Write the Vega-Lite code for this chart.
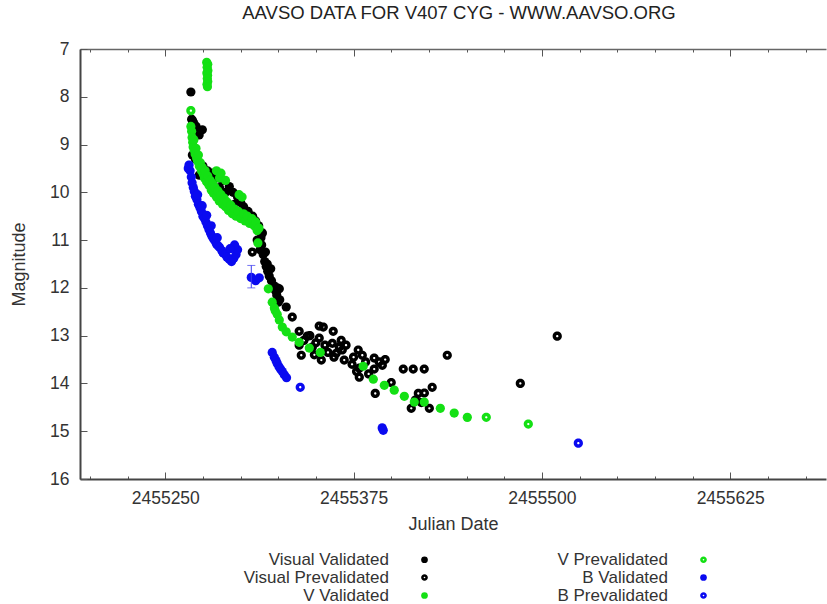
{
  "$schema": "https://vega.github.io/schema/vega-lite/v6.json",
  "width": 746,
  "height": 430,
  "autosize": {"type": "none"},
  "padding": {"left": 80, "top": 49, "right": 1, "bottom": 125},
  "background": "white",
  "title": {"text": "AAVSO DATA FOR V407 CYG - WWW.AAVSO.ORG", "fontSize": 18.5, "font": "Liberation Sans", "fontWeight": "normal", "color": "#222", "offset": 18, "anchor": "middle", "dx": 6},
  "config": {
    "view": {"stroke": null},
    "axis": {"labelFont": "Liberation Sans", "titleFont": "Liberation Sans", "labelColor": "#333", "titleColor": "#333", "labelFontSize": 17.5, "titleFontSize": 18, "titleFontWeight": "normal", "grid": false, "tickColor": "#555", "domainColor": "#444", "domainWidth": 2},
    "legend": {"labelFont": "Liberation Sans", "labelFontSize": 17, "labelColor": "#333"}
  },
  "datasets": {
    "pts": [
      {"jd": 2455267.0, "mag": 7.90, "s": "Visual Validated"},
      {"jd": 2455267.5, "mag": 8.47, "s": "Visual Validated"},
      {"jd": 2455268.2, "mag": 8.50, "s": "Visual Validated"},
      {"jd": 2455269.0, "mag": 8.56, "s": "Visual Validated"},
      {"jd": 2455270.5, "mag": 8.62, "s": "Visual Validated"},
      {"jd": 2455271.2, "mag": 8.75, "s": "Visual Validated"},
      {"jd": 2455272.5, "mag": 8.80, "s": "Visual Validated"},
      {"jd": 2455274.6, "mag": 8.69, "s": "Visual Validated"},
      {"jd": 2455268.0, "mag": 9.22, "s": "Visual Validated"},
      {"jd": 2455270.0, "mag": 9.30, "s": "Visual Validated"},
      {"jd": 2455272.6, "mag": 9.64, "s": "Visual Validated"},
      {"jd": 2455275.0, "mag": 9.45, "s": "Visual Validated"},
      {"jd": 2455278.0, "mag": 9.55, "s": "Visual Validated"},
      {"jd": 2455281.0, "mag": 9.60, "s": "Visual Validated"},
      {"jd": 2455284.0, "mag": 9.70, "s": "Visual Validated"},
      {"jd": 2455286.0, "mag": 9.90, "s": "Visual Validated"},
      {"jd": 2455288.0, "mag": 9.75, "s": "Visual Validated"},
      {"jd": 2455290.0, "mag": 10.00, "s": "Visual Validated"},
      {"jd": 2455292.5, "mag": 9.88, "s": "Visual Validated"},
      {"jd": 2455295.0, "mag": 10.00, "s": "Visual Validated"},
      {"jd": 2455296.0, "mag": 10.25, "s": "Visual Validated"},
      {"jd": 2455298.0, "mag": 10.10, "s": "Visual Validated"},
      {"jd": 2455300.0, "mag": 10.20, "s": "Visual Validated"},
      {"jd": 2455302.0, "mag": 10.30, "s": "Visual Validated"},
      {"jd": 2455305.0, "mag": 10.40, "s": "Visual Validated"},
      {"jd": 2455306.0, "mag": 10.60, "s": "Visual Validated"},
      {"jd": 2455308.0, "mag": 10.50, "s": "Visual Validated"},
      {"jd": 2455310.0, "mag": 10.60, "s": "Visual Validated"},
      {"jd": 2455311.0, "mag": 11.00, "s": "Visual Validated"},
      {"jd": 2455312.0, "mag": 10.70, "s": "Visual Validated"},
      {"jd": 2455313.5, "mag": 10.95, "s": "Visual Validated"},
      {"jd": 2455314.5, "mag": 10.85, "s": "Visual Validated"},
      {"jd": 2455314.0, "mag": 11.10, "s": "Visual Validated"},
      {"jd": 2455313.0, "mag": 11.20, "s": "Visual Validated"},
      {"jd": 2455315.0, "mag": 11.30, "s": "Visual Validated"},
      {"jd": 2455316.5, "mag": 11.25, "s": "Visual Validated"},
      {"jd": 2455316.0, "mag": 11.45, "s": "Visual Validated"},
      {"jd": 2455317.0, "mag": 11.55, "s": "Visual Validated"},
      {"jd": 2455318.0, "mag": 11.65, "s": "Visual Validated"},
      {"jd": 2455319.0, "mag": 11.75, "s": "Visual Validated"},
      {"jd": 2455320.0, "mag": 11.60, "s": "Visual Validated"},
      {"jd": 2455320.5, "mag": 11.85, "s": "Visual Validated"},
      {"jd": 2455322.0, "mag": 11.95, "s": "Visual Validated"},
      {"jd": 2455323.0, "mag": 12.05, "s": "Visual Validated"},
      {"jd": 2455324.0, "mag": 12.15, "s": "Visual Validated"},
      {"jd": 2455325.0, "mag": 12.30, "s": "Visual Validated"},
      {"jd": 2455326.0, "mag": 12.25, "s": "Visual Validated"},
      {"jd": 2455330.3, "mag": 12.40, "s": "Visual Validated"},

      {"jd": 2455307.8, "mag": 11.25, "s": "Visual Prevalidated"},
      {"jd": 2455317.7, "mag": 11.50, "s": "Visual Prevalidated"},
      {"jd": 2455324.3, "mag": 12.00, "s": "Visual Prevalidated"},
      {"jd": 2455325.7, "mag": 12.02, "s": "Visual Prevalidated"},
      {"jd": 2455334.3, "mag": 12.61, "s": "Visual Prevalidated"},
      {"jd": 2455338.9, "mag": 12.91, "s": "Visual Prevalidated"},
      {"jd": 2455344.3, "mag": 13.01, "s": "Visual Prevalidated"},
      {"jd": 2455352.2, "mag": 12.80, "s": "Visual Prevalidated"},
      {"jd": 2455354.9, "mag": 12.82, "s": "Visual Prevalidated"},
      {"jd": 2455361.5, "mag": 12.91, "s": "Visual Prevalidated"},
      {"jd": 2455366.8, "mag": 13.10, "s": "Visual Prevalidated"},
      {"jd": 2455367.5, "mag": 13.30, "s": "Visual Prevalidated"},
      {"jd": 2455338.9, "mag": 13.20, "s": "Visual Prevalidated"},
      {"jd": 2455340.3, "mag": 13.41, "s": "Visual Prevalidated"},
      {"jd": 2455347.6, "mag": 13.24, "s": "Visual Prevalidated"},
      {"jd": 2455353.6, "mag": 13.51, "s": "Visual Prevalidated"},
      {"jd": 2455363.5, "mag": 13.37, "s": "Visual Prevalidated"},
      {"jd": 2455368.8, "mag": 13.51, "s": "Visual Prevalidated"},
      {"jd": 2455378.1, "mag": 13.30, "s": "Visual Prevalidated"},
      {"jd": 2455380.8, "mag": 13.41, "s": "Visual Prevalidated"},
      {"jd": 2455388.7, "mag": 13.47, "s": "Visual Prevalidated"},
      {"jd": 2455394.1, "mag": 13.62, "s": "Visual Prevalidated"},
      {"jd": 2455378.8, "mag": 13.68, "s": "Visual Prevalidated"},
      {"jd": 2455378.8, "mag": 13.87, "s": "Visual Prevalidated"},
      {"jd": 2455388.7, "mag": 13.70, "s": "Visual Prevalidated"},
      {"jd": 2455400.0, "mag": 13.98, "s": "Visual Prevalidated"},
      {"jd": 2455389.4, "mag": 14.21, "s": "Visual Prevalidated"},
      {"jd": 2455408.0, "mag": 13.70, "s": "Visual Prevalidated"},
      {"jd": 2455414.6, "mag": 13.70, "s": "Visual Prevalidated"},
      {"jd": 2455421.9, "mag": 13.70, "s": "Visual Prevalidated"},
      {"jd": 2455437.2, "mag": 13.41, "s": "Visual Prevalidated"},
      {"jd": 2455418.0, "mag": 14.21, "s": "Visual Prevalidated"},
      {"jd": 2455427.2, "mag": 14.08, "s": "Visual Prevalidated"},
      {"jd": 2455413.3, "mag": 14.52, "s": "Visual Prevalidated"},
      {"jd": 2455425.3, "mag": 14.52, "s": "Visual Prevalidated"},
      {"jd": 2455485.7, "mag": 14.00, "s": "Visual Prevalidated"},
      {"jd": 2455510.2, "mag": 13.01, "s": "Visual Prevalidated"},
      {"jd": 2455352.2, "mag": 13.05, "s": "Visual Prevalidated"},
      {"jd": 2455360.9, "mag": 13.16, "s": "Visual Prevalidated"},
      {"jd": 2455365.5, "mag": 13.24, "s": "Visual Prevalidated"},
      {"jd": 2455342.0, "mag": 13.10, "s": "Visual Prevalidated"},
      {"jd": 2455346.0, "mag": 13.00, "s": "Visual Prevalidated"},
      {"jd": 2455350.0, "mag": 13.15, "s": "Visual Prevalidated"},
      {"jd": 2455356.0, "mag": 13.20, "s": "Visual Prevalidated"},
      {"jd": 2455358.0, "mag": 13.35, "s": "Visual Prevalidated"},
      {"jd": 2455362.0, "mag": 13.45, "s": "Visual Prevalidated"},
      {"jd": 2455349.0, "mag": 13.40, "s": "Visual Prevalidated"},
      {"jd": 2455370.0, "mag": 13.20, "s": "Visual Prevalidated"},
      {"jd": 2455375.0, "mag": 13.45, "s": "Visual Prevalidated"},
      {"jd": 2455383.0, "mag": 13.55, "s": "Visual Prevalidated"},
      {"jd": 2455385.0, "mag": 13.80, "s": "Visual Prevalidated"},
      {"jd": 2455392.0, "mag": 13.55, "s": "Visual Prevalidated"},
      {"jd": 2455396.0, "mag": 13.50, "s": "Visual Prevalidated"},
      {"jd": 2455374.0, "mag": 13.60, "s": "Visual Prevalidated"},
      {"jd": 2455377.0, "mag": 13.75, "s": "Visual Prevalidated"},
      {"jd": 2455420.0, "mag": 14.40, "s": "Visual Prevalidated"},
      {"jd": 2455422.0, "mag": 14.20, "s": "Visual Prevalidated"},
      {"jd": 2455416.0, "mag": 14.35, "s": "Visual Prevalidated"},

      {"jd": 2455277.5, "mag": 7.28, "s": "V Validated"},
      {"jd": 2455278.2, "mag": 7.32, "s": "V Validated"},
      {"jd": 2455277.8, "mag": 7.38, "s": "V Validated"},
      {"jd": 2455278.3, "mag": 7.45, "s": "V Validated"},
      {"jd": 2455277.6, "mag": 7.50, "s": "V Validated"},
      {"jd": 2455278.1, "mag": 7.55, "s": "V Validated"},
      {"jd": 2455277.9, "mag": 7.62, "s": "V Validated"},
      {"jd": 2455278.2, "mag": 7.68, "s": "V Validated"},
      {"jd": 2455277.7, "mag": 7.74, "s": "V Validated"},
      {"jd": 2455278.0, "mag": 7.79, "s": "V Validated"},
      {"jd": 2455267.0, "mag": 8.62, "s": "V Validated"},
      {"jd": 2455267.5, "mag": 8.72, "s": "V Validated"},
      {"jd": 2455267.8, "mag": 8.85, "s": "V Validated"},
      {"jd": 2455268.2, "mag": 8.95, "s": "V Validated"},
      {"jd": 2455268.5, "mag": 9.05, "s": "V Validated"},
      {"jd": 2455269.0, "mag": 8.90, "s": "V Validated"},
      {"jd": 2455269.3, "mag": 9.12, "s": "V Validated"},
      {"jd": 2455269.8, "mag": 9.20, "s": "V Validated"},
      {"jd": 2455270.4, "mag": 9.08, "s": "V Validated"},
      {"jd": 2455270.8, "mag": 9.28, "s": "V Validated"},
      {"jd": 2455271.5, "mag": 9.35, "s": "V Validated"},
      {"jd": 2455272.0, "mag": 9.22, "s": "V Validated"},
      {"jd": 2455272.6, "mag": 9.45, "s": "V Validated"},
      {"jd": 2455273.3, "mag": 9.38, "s": "V Validated"},
      {"jd": 2455274.0, "mag": 9.55, "s": "V Validated"},
      {"jd": 2455274.6, "mag": 9.48, "s": "V Validated"},
      {"jd": 2455275.3, "mag": 9.62, "s": "V Validated"},
      {"jd": 2455276.0, "mag": 9.70, "s": "V Validated"},
      {"jd": 2455276.5, "mag": 9.55, "s": "V Validated"},
      {"jd": 2455277.4, "mag": 9.78, "s": "V Validated"},
      {"jd": 2455278.2, "mag": 9.66, "s": "V Validated"},
      {"jd": 2455279.0, "mag": 9.85, "s": "V Validated"},
      {"jd": 2455279.8, "mag": 9.75, "s": "V Validated"},
      {"jd": 2455280.5, "mag": 9.95, "s": "V Validated"},
      {"jd": 2455281.5, "mag": 9.82, "s": "V Validated"},
      {"jd": 2455282.0, "mag": 10.02, "s": "V Validated"},
      {"jd": 2455283.0, "mag": 9.90, "s": "V Validated"},
      {"jd": 2455284.0, "mag": 9.55, "s": "V Validated"},
      {"jd": 2455284.0, "mag": 10.10, "s": "V Validated"},
      {"jd": 2455285.0, "mag": 9.97, "s": "V Validated"},
      {"jd": 2455285.8, "mag": 10.18, "s": "V Validated"},
      {"jd": 2455286.0, "mag": 9.70, "s": "V Validated"},
      {"jd": 2455287.0, "mag": 9.60, "s": "V Validated"},
      {"jd": 2455287.0, "mag": 10.05, "s": "V Validated"},
      {"jd": 2455288.0, "mag": 10.25, "s": "V Validated"},
      {"jd": 2455289.0, "mag": 10.12, "s": "V Validated"},
      {"jd": 2455290.0, "mag": 9.75, "s": "V Validated"},
      {"jd": 2455290.0, "mag": 10.30, "s": "V Validated"},
      {"jd": 2455291.0, "mag": 10.20, "s": "V Validated"},
      {"jd": 2455292.0, "mag": 10.38, "s": "V Validated"},
      {"jd": 2455293.5, "mag": 10.27, "s": "V Validated"},
      {"jd": 2455294.5, "mag": 10.45, "s": "V Validated"},
      {"jd": 2455296.0, "mag": 10.35, "s": "V Validated"},
      {"jd": 2455297.0, "mag": 10.50, "s": "V Validated"},
      {"jd": 2455298.5, "mag": 10.40, "s": "V Validated"},
      {"jd": 2455299.0, "mag": 10.05, "s": "V Validated"},
      {"jd": 2455300.0, "mag": 10.55, "s": "V Validated"},
      {"jd": 2455301.0, "mag": 10.10, "s": "V Validated"},
      {"jd": 2455302.0, "mag": 10.45, "s": "V Validated"},
      {"jd": 2455303.0, "mag": 10.60, "s": "V Validated"},
      {"jd": 2455304.5, "mag": 10.50, "s": "V Validated"},
      {"jd": 2455306.0, "mag": 10.65, "s": "V Validated"},
      {"jd": 2455307.5, "mag": 10.55, "s": "V Validated"},
      {"jd": 2455309.0, "mag": 10.70, "s": "V Validated"},
      {"jd": 2455310.0, "mag": 10.62, "s": "V Validated"},
      {"jd": 2455311.0, "mag": 10.80, "s": "V Validated"},
      {"jd": 2455311.5, "mag": 11.06, "s": "V Validated"},
      {"jd": 2455312.2, "mag": 10.75, "s": "V Validated"},
      {"jd": 2455318.4, "mag": 12.02, "s": "V Validated"},
      {"jd": 2455321.0, "mag": 12.30, "s": "V Validated"},
      {"jd": 2455322.4, "mag": 12.42, "s": "V Validated"},
      {"jd": 2455323.0, "mag": 12.48, "s": "V Validated"},
      {"jd": 2455324.3, "mag": 12.55, "s": "V Validated"},
      {"jd": 2455325.7, "mag": 12.67, "s": "V Validated"},
      {"jd": 2455327.7, "mag": 12.82, "s": "V Validated"},
      {"jd": 2455330.3, "mag": 12.92, "s": "V Validated"},
      {"jd": 2455334.3, "mag": 13.03, "s": "V Validated"},
      {"jd": 2455338.9, "mag": 13.14, "s": "V Validated"},
      {"jd": 2455345.6, "mag": 13.26, "s": "V Validated"},
      {"jd": 2455352.9, "mag": 13.35, "s": "V Validated"},
      {"jd": 2455381.4, "mag": 13.64, "s": "V Validated"},
      {"jd": 2455388.1, "mag": 13.91, "s": "V Validated"},
      {"jd": 2455395.4, "mag": 14.04, "s": "V Validated"},
      {"jd": 2455402.0, "mag": 14.14, "s": "V Validated"},
      {"jd": 2455408.7, "mag": 14.27, "s": "V Validated"},
      {"jd": 2455415.3, "mag": 14.39, "s": "V Validated"},
      {"jd": 2455421.9, "mag": 14.39, "s": "V Validated"},
      {"jd": 2455432.6, "mag": 14.52, "s": "V Validated"},
      {"jd": 2455441.8, "mag": 14.62, "s": "V Validated"},
      {"jd": 2455450.5, "mag": 14.71, "s": "V Validated"},

      {"jd": 2455267.0, "mag": 8.29, "s": "V Prevalidated"},
      {"jd": 2455463.1, "mag": 14.71, "s": "V Prevalidated"},
      {"jd": 2455491.0, "mag": 14.85, "s": "V Prevalidated"},

      {"jd": 2455266.5, "mag": 9.55, "s": "B Validated"},
      {"jd": 2455267.3, "mag": 9.68, "s": "B Validated"},
      {"jd": 2455267.8, "mag": 9.80, "s": "B Validated"},
      {"jd": 2455268.6, "mag": 9.90, "s": "B Validated"},
      {"jd": 2455269.3, "mag": 9.98, "s": "B Validated"},
      {"jd": 2455270.0, "mag": 10.08, "s": "B Validated"},
      {"jd": 2455271.0, "mag": 10.15, "s": "B Validated"},
      {"jd": 2455271.5, "mag": 10.05, "s": "B Validated"},
      {"jd": 2455272.0, "mag": 10.25, "s": "B Validated"},
      {"jd": 2455273.0, "mag": 10.32, "s": "B Validated"},
      {"jd": 2455274.0, "mag": 10.40, "s": "B Validated"},
      {"jd": 2455274.5, "mag": 10.28, "s": "B Validated"},
      {"jd": 2455275.0, "mag": 10.50, "s": "B Validated"},
      {"jd": 2455276.0, "mag": 10.55, "s": "B Validated"},
      {"jd": 2455277.0, "mag": 10.62, "s": "B Validated"},
      {"jd": 2455277.5, "mag": 10.48, "s": "B Validated"},
      {"jd": 2455278.0, "mag": 10.70, "s": "B Validated"},
      {"jd": 2455279.0, "mag": 10.78, "s": "B Validated"},
      {"jd": 2455280.0, "mag": 10.85, "s": "B Validated"},
      {"jd": 2455280.5, "mag": 10.70, "s": "B Validated"},
      {"jd": 2455281.0, "mag": 10.92, "s": "B Validated"},
      {"jd": 2455282.0, "mag": 10.97, "s": "B Validated"},
      {"jd": 2455283.0, "mag": 11.02, "s": "B Validated"},
      {"jd": 2455284.0, "mag": 11.08, "s": "B Validated"},
      {"jd": 2455284.5, "mag": 10.95, "s": "B Validated"},
      {"jd": 2455285.0, "mag": 11.12, "s": "B Validated"},
      {"jd": 2455286.0, "mag": 11.15, "s": "B Validated"},
      {"jd": 2455287.5, "mag": 11.22, "s": "B Validated"},
      {"jd": 2455288.5, "mag": 11.27, "s": "B Validated"},
      {"jd": 2455290.0, "mag": 11.30, "s": "B Validated"},
      {"jd": 2455291.0, "mag": 11.36, "s": "B Validated"},
      {"jd": 2455292.5, "mag": 11.40, "s": "B Validated"},
      {"jd": 2455294.0, "mag": 11.45, "s": "B Validated"},
      {"jd": 2455295.5, "mag": 11.38, "s": "B Validated"},
      {"jd": 2455297.0, "mag": 11.30, "s": "B Validated"},
      {"jd": 2455298.0, "mag": 11.20, "s": "B Validated"},
      {"jd": 2455296.0, "mag": 11.10, "s": "B Validated"},
      {"jd": 2455293.0, "mag": 11.18, "s": "B Validated"},
      {"jd": 2455307.1, "mag": 11.78, "s": "B Validated"},
      {"jd": 2455310.0, "mag": 11.85, "s": "B Validated"},
      {"jd": 2455312.4, "mag": 11.79, "s": "B Validated"},
      {"jd": 2455321.0, "mag": 13.35, "s": "B Validated"},
      {"jd": 2455322.4, "mag": 13.45, "s": "B Validated"},
      {"jd": 2455323.5, "mag": 13.52, "s": "B Validated"},
      {"jd": 2455324.3, "mag": 13.58, "s": "B Validated"},
      {"jd": 2455325.5, "mag": 13.65, "s": "B Validated"},
      {"jd": 2455326.5, "mag": 13.70, "s": "B Validated"},
      {"jd": 2455327.7, "mag": 13.75, "s": "B Validated"},
      {"jd": 2455329.0, "mag": 13.82, "s": "B Validated"},
      {"jd": 2455330.5, "mag": 13.88, "s": "B Validated"},
      {"jd": 2455394.0, "mag": 14.93, "s": "B Validated"},
      {"jd": 2455394.7, "mag": 14.98, "s": "B Validated"},

      {"jd": 2455265.8, "mag": 9.43, "s": "B Prevalidated"},
      {"jd": 2455265.3, "mag": 9.50, "s": "B Prevalidated"},
      {"jd": 2455339.6, "mag": 14.08, "s": "B Prevalidated"},
      {"jd": 2455524.2, "mag": 15.25, "s": "B Prevalidated"}
    ],
    "err": [
      {"jd": 2455307.1, "lo": 11.53, "hi": 12.0}
    ]
  },
  "layer": [
    {
      "data": {"name": "pts"},
      "mark": {"type": "point", "filled": true, "size": 85, "opacity": 1},
      "encoding": {
        "x": {"field": "jd", "type": "quantitative", "scale": {"domain": [2455193.4, 2455688.6], "nice": false, "zero": false},
          "axis": {"orient": "bottom", "title": "Julian Date", "titlePadding": 9, "values": [2455200, 2455225, 2455250, 2455275, 2455300, 2455325, 2455350, 2455375, 2455400, 2455425, 2455450, 2455475, 2455500, 2455525, 2455550, 2455575, 2455600, 2455625, 2455650, 2455675],
            "format": "d", "labelExpr": "datum.value % 125 === 0 ? datum.label : ''",
            "tickSize": {"condition": {"test": "datum.value % 125 === 0", "value": -7}, "value": -3}, "labelPadding": 17}},
        "y": {"field": "mag", "type": "quantitative", "title": "Magnitude", "scale": {"domain": [7, 16], "reverse": true, "nice": false, "zero": false},
          "axis": {"orient": "left", "values": [7, 8, 9, 10, 11, 12, 13, 14, 15, 16], "tickSize": -7, "labelPadding": 18, "titlePadding": 21}},
        "color": {"field": "s", "type": "nominal",
          "scale": {"domain": ["Visual Validated", "Visual Prevalidated", "V Validated", "V Prevalidated", "B Validated", "B Prevalidated"],
            "range": ["#000000", "#000000", "#14e014", "#14e014", "#0a0af0", "#0a0af0"]},
          "legend": {"orient": "none", "legendX": 336, "legendY": 502, "columns": 2, "title": null, "labelAlign": "right", "labelOffset": -44, "columnPadding": 129, "rowPadding": 0, "symbolSize": 45}},
        "shape": {"field": "s", "type": "nominal",
          "scale": {"domain": ["Visual Validated", "Visual Prevalidated", "V Validated", "V Prevalidated", "B Validated", "B Prevalidated"],
            "range": ["circle", "M-1,0A1,1 0 1,0 1,0A1,1 0 1,0 -1,0Z M-0.25,0A0.25,0.25 0 1,1 0.25,0A0.25,0.25 0 1,1 -0.25,0Z", "circle", "M-1,0A1,1 0 1,0 1,0A1,1 0 1,0 -1,0Z M-0.25,0A0.25,0.25 0 1,1 0.25,0A0.25,0.25 0 1,1 -0.25,0Z", "circle", "M-1,0A1,1 0 1,0 1,0A1,1 0 1,0 -1,0Z M-0.25,0A0.25,0.25 0 1,1 0.25,0A0.25,0.25 0 1,1 -0.25,0Z"]},
          "legend": {"orient": "none", "legendX": 336, "legendY": 502, "columns": 2, "title": null, "labelAlign": "right", "labelOffset": -44, "columnPadding": 129, "rowPadding": 0, "symbolSize": 45}}
      }
    },
    {
      "data": {"name": "err"},
      "mark": {"type": "errorbar", "ticks": {"size": 8, "color": "#3a3af0"}, "rule": {"color": "#3a3af0"}},
      "encoding": {
        "x": {"field": "jd", "type": "quantitative",
          "axis": {"orient": "top", "title": null, "labels": false, "domainColor": "#666", "domainWidth": 1.5, "values": [2455200, 2455225, 2455250, 2455275, 2455300, 2455325, 2455350, 2455375, 2455400, 2455425, 2455450, 2455475, 2455500, 2455525, 2455550, 2455575, 2455600, 2455625, 2455650, 2455675],
            "tickSize": {"condition": {"test": "datum.value % 125 === 0", "value": -7}, "value": -3}}},
        "y": {"field": "lo", "type": "quantitative", "title": "Magnitude"},
        "y2": {"field": "hi"}
      }
    }
  ],
  "resolve": {"axis": {"x": "independent"}}
}
